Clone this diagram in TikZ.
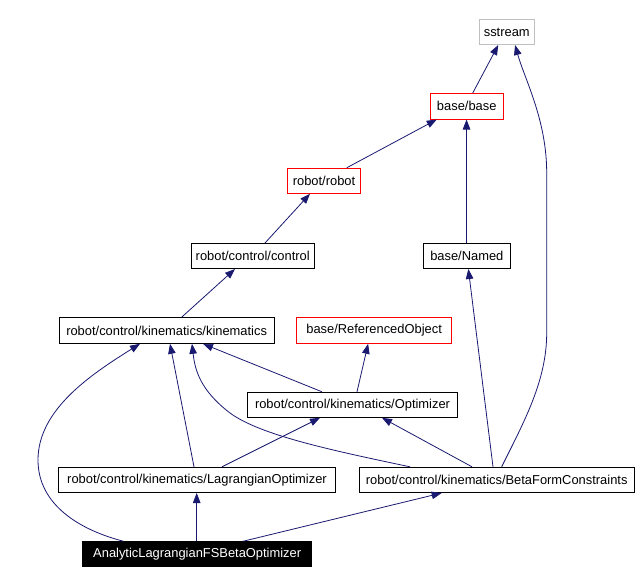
\documentclass[tikz,border=0pt]{standalone}
\usepackage{fontspec}
\setmainfont{Liberation Sans}
\usetikzlibrary{arrows.meta}
\definecolor{edgec}{HTML}{191970}
\definecolor{grayc}{HTML}{BFBFBF}
\tikzset{
  box/.style={draw=black, line width=1pt, inner sep=0pt, anchor=center,
    font=\fontsize{12.9pt}{15pt}\selectfont, minimum height=25pt},
  redbox/.style={box, draw=red},
  graybox/.style={box, draw=grayc},
  blackbox/.style={box, fill=black, text=white},
  edge/.style={draw=edgec, line width=0.8pt, -{Triangle[length=10pt,width=7.5pt]}}
}
\begin{document}
\begin{tikzpicture}[x=1pt,y=-1pt]
\useasboundingbox (0,0) rectangle (638,584);
\node[graybox, minimum width=54.5pt] (sstream) at (506.75,32) {sstream};
\node[redbox, minimum width=73.5pt, minimum height=25.5pt] (base) at (466.75,106.25) {base/base};
\node[redbox, minimum width=73.4pt] (robot) at (324,180.8) {robot/robot};
\node[box, minimum width=122.5pt] (control) at (252.75,256) {robot/control/control};
\node[box, minimum width=87.7pt] (named) at (466.85,256) {base/Named};
\node[box, minimum width=214.7pt, minimum height=25.6pt] (kin) at (166.65,330.5) {robot/control/kinematics/kinematics};
\node[redbox, minimum width=155.2pt, minimum height=25.6pt] (refobj) at (374.1,330.5) {base/ReferencedObject};
\node[box, minimum width=210.4pt] (opt) at (352.5,404.8) {robot/control/kinematics/Optimizer};
\node[box, minimum width=277.4pt, minimum height=25.2pt] (lag) at (197,479.9) {robot/control/kinematics/LagrangianOptimizer};
\node[box, minimum width=274.7pt, minimum height=25.2pt] (beta) at (496.65,479.9) {robot/control/kinematics/BetaFormConstraints};
\node[blackbox, minimum width=229pt] (ana) at (197.2,554.2) {AnalyticLagrangianFSBetaOptimizer};

% edges
\draw[edge] ([xshift=6pt]base.north) -- ([xshift=-8.5pt]sstream.south);
\draw[edge] ([xshift=5pt]beta.north) .. controls (525,420) and (546.7,380) .. (546.7,333)
   -- (546.7,173) .. controls (546.7,120) and (525,80) .. ([xshift=8.3pt]sstream.south);
\draw[edge] ([xshift=22.7pt]robot.north) -- ([xshift=-30pt]base.south);
\draw[edge] ([xshift=-0.3pt]named.north) -- ([xshift=-0.2pt]base.south);
\draw[edge] ([xshift=12.25pt]control.north) -- ([xshift=-14pt]robot.south);
\draw[edge] ([xshift=15pt]kin.north) -- ([xshift=-17.75pt]control.south);
\draw[edge] ([xshift=-30.5pt]opt.north) -- ([xshift=36.35pt]kin.south);
\draw[edge] ([xshift=4.5pt]opt.north) -- ([xshift=-6pt]refobj.south);
\draw[edge] ([xshift=-3pt]lag.north) -- ([xshift=3.35pt]kin.south);
\draw[edge] ([xshift=25pt]lag.north) -- ([xshift=-32.5pt]opt.south);
\draw[edge] ([xshift=-24.65pt]beta.north) -- ([xshift=29.5pt]opt.south);
\draw[edge] ([xshift=-86.65pt]beta.north) .. controls (330,450) and (260,435) .. (230,413)
   .. controls (200,390) and (195,370) .. ([xshift=25.35pt]kin.south);
\draw[edge] ([xshift=-3.65pt]beta.north) -- ([xshift=1.5pt]named.south);
\draw[edge] ([xshift=-73.9pt]ana.north) .. controls (80,530) and (38,505) .. (38,460)
   .. controls (38,410) and (90,375) .. ([xshift=-26.65pt]kin.south);
\draw[edge] ([xshift=-0.5pt]ana.north) -- ([xshift=-0.5pt]ana.north |- lag.south);
\draw[edge] ([xshift=46.1pt]ana.north) -- ([xshift=-55pt]beta.south);
\end{tikzpicture}
\end{document}
